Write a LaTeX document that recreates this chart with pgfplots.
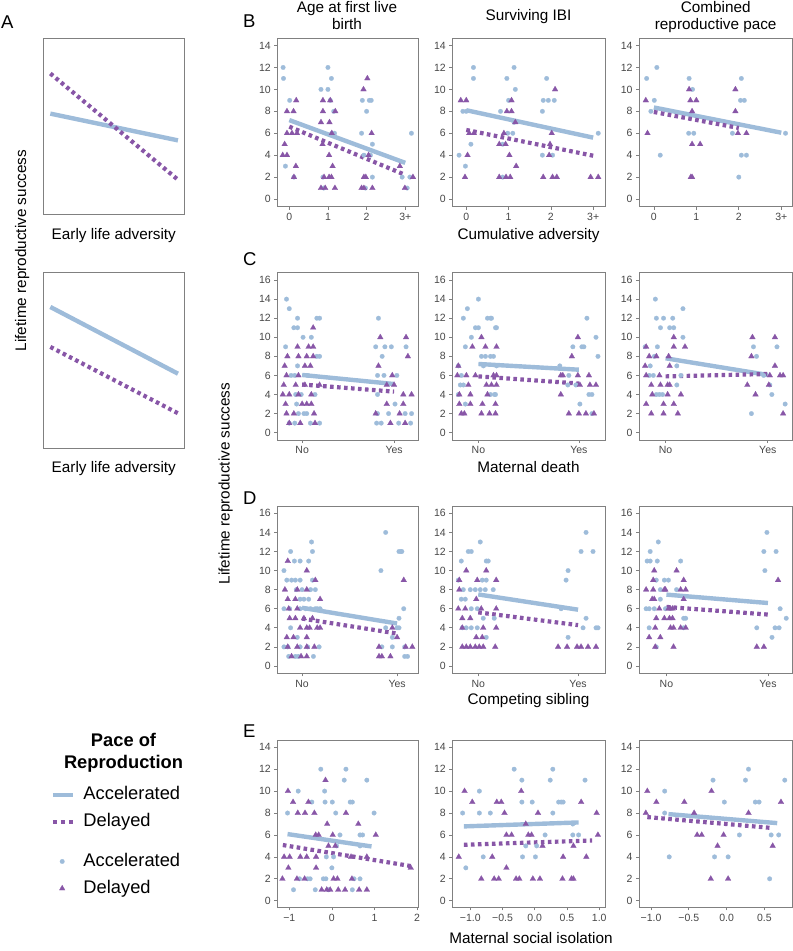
\documentclass[border=0pt]{standalone}
\usepackage{pgfplots}
\pgfplotsset{compat=1.18}
\usepackage{fontspec}
\setmainfont{Liberation Sans}
\definecolor{cblue}{HTML}{9EBCDA}
\definecolor{cpurple}{HTML}{8856A7}
\newcommand\tickfont{\fontsize{10.5bp}{12bp}\selectfont}
\newcommand\labfont{\fontsize{15.3bp}{17.5bp}\selectfont}
\newcommand\letfont{\fontsize{18.5bp}{21bp}\selectfont}
\newcommand\legfont{\fontsize{18.3bp}{21bp}\selectfont}
\pgfplotsset{
  panel/.style={
    scale only axis, anchor=north west,
    axis line style={draw=black!50, line width=0.7bp},
    tick style={draw=black!50, line width=0.7bp},
    tick align=outside, major tick length=3bp,
    xtick pos=bottom, ytick pos=left,
    tick label style={font=\tickfont, text=black!72},
    /pgf/number format/assume math mode=true,
  },
  c1/.style={width=140.7bp},
  c2/.style={width=152.7bp},
  c3/.style={width=153.3bp},
  rowB/.style={height=168.4bp, ymin=-0.7, ymax=14.66, ytick={0,2,...,14}},
  rowC/.style={height=167.3bp, ymin=-0.77, ymax=16.77, ytick={0,2,...,16}},
  rowE/.style={height=167.3bp, ymin=-0.6, ymax=14.66, ytick={0,2,...,14}},
  adv/.style={xtick={0,1,2,3}, xticklabels={0,1,2,3+}},
  yn/.style={xtick={0,1}, xticklabels={No,Yes}},
  bpt/.style={only marks, mark=*, color=cblue, mark size=2.3bp, mark options={fill=cblue, draw=cblue, line width=0.2bp}},
  ppt/.style={only marks, mark=triangle*, color=cpurple, mark size=3.3bp, mark options={fill=cpurple, draw=cpurple, line width=0.2bp}},
  bln/.style={no marks, color=cblue, line width=4.4bp},
  pln/.style={no marks, color=cpurple, line width=4.2bp, dash pattern=on 3.6bp off 3.4bp},
  panelA/.style={scale only axis, anchor=north west, width=141bp, height=176bp, xmin=0, xmax=1, ymin=0, ymax=1, xtick=\empty, ytick=\empty, axis line style={draw=black!50, line width=0.7bp}},
}
\begin{document}
\begin{tikzpicture}
\path[use as bounding box] (0bp,0bp) rectangle (793bp,-951bp);

% ---------------- Panel A ----------------
\begin{axis}[panelA, at={(43.3bp,-38.3bp)}]
\addplot[bln] coordinates {(0.05,0.572) (0.955,0.42)};
\addplot[pln] coordinates {(0.05,0.80) (0.96,0.193)};
\end{axis}
\begin{axis}[panelA, at={(43.3bp,-272.3bp)}]
\addplot[bln] coordinates {(0.05,0.803) (0.955,0.424)};
\addplot[pln] coordinates {(0.05,0.576) (0.96,0.197)};
\end{axis}
\node[font=\letfont, anchor=base west, inner sep=0pt] at (1bp,-28.3bp) {A};
\node[font=\labfont, anchor=base] at (113.8bp,-239bp) {Early life adversity};
\node[font=\labfont, anchor=base] at (113.8bp,-472.3bp) {Early life adversity};
\node[font=\labfont, anchor=base, rotate=90] at (26bp,-250.5bp) {Lifetime reproductive success};

% ---------------- Row B ----------------
\begin{axis}[panel, c1, rowB, adv, at={(277.3bp,-38.3bp)}, xmin=-0.31, xmax=3.33]
\addplot[bpt] coordinates {(-0.16,12) (-0.15,11) (0.01,9) (-0.1,3) (0.12,2) (1.0,12) (1.09,11) (0.82,10) (1.0,10) (1.06,9) (1.15,8) (1.1,6) (1.17,6) (0.87,2) (0.89,1) (1.89,9) (2.07,9) (2.12,9) (2.0,8) (1.87,6) (2.15,5) (1.93,4) (2.1,4) (2.15,2) (1.97,1) (3.16,6) (2.92,2) (3.12,2) (3.05,1)};
\addplot[ppt] coordinates {(0.18,9) (-0.06,8) (0.11,8) (-0.06,6) (0.07,6) (0.2,6) (-0.12,5) (-0.17,4) (-0.06,4) (0.17,3) (0.12,2) (0.87,9) (1.06,9) (0.87,8) (1.19,8) (0.82,7) (1.04,7) (1.1,6) (0.86,5) (1.03,4) (1.12,3) (0.9,2) (1.03,2) (1.09,2) (0.82,1) (0.93,1) (1.18,1) (2.02,11) (1.92,10) (2.13,6) (2.05,4) (1.93,2) (1.98,2) (1.87,1) (1.93,1) (2.15,1) (2.86,3) (3.2,2) (2.99,1)};
\addplot[bln] coordinates {(0,7.2) (3,3.3)};
\addplot[pln] coordinates {(0,6.6) (3,2.2)};
\end{axis}
\begin{axis}[panel, c2, rowB, adv, at={(452.3bp,-38.3bp)}, xmin=-0.33, xmax=3.28]
\addplot[bpt] coordinates {(-0.17,4) (-0.08,8) (0,8) (-0.02,3) (0.11,5) (0.17,12) (0.17,11) (0.96,11) (1.13,12) (1.16,10) (1.0,9) (0.81,8) (1.13,7) (0.98,6) (1.1,6) (0.86,5) (0.86,2) (1.9,11) (1.82,9) (1.94,9) (2.08,9) (1.8,8) (1.8,4) (2.04,4) (3.12,6)};
\addplot[ppt] coordinates {(-0.13,9) (0,9) (0.03,4) (-0.03,2) (0.07,6) (0.18,6) (1.07,9) (0.96,8) (1.07,8) (1.16,7) (0.89,6) (0.78,5) (0.93,5) (1.02,4) (1.18,3) (0.78,2) (0.94,2) (1.04,2) (2.1,10) (2.02,6) (1.98,5) (1.96,4) (1.82,2) (2.04,2) (2.14,2) (2.94,2) (3.12,2)};
\addplot[bln] coordinates {(0,8.1) (3,5.6)};
\addplot[pln] coordinates {(0,6.3) (3,3.95)};
\end{axis}
\begin{axis}[panel, c3, rowB, adv, at={(639bp,-38.3bp)}, xmin=-0.35, xmax=3.26]
\addplot[bpt] coordinates {(-0.17,11) (0.07,12) (0.01,9) (-0.07,8) (0.15,4) (0.83,11) (0.91,10) (0.82,6) (0.94,6) (2.06,11) (2.04,9) (2.13,9) (1.85,6) (2.06,4) (2.18,4) (2.0,2) (3.1,6)};
\addplot[ppt] coordinates {(-0.19,9) (-0.15,6) (0.83,10) (0.86,9) (1.0,9) (0.9,8) (0.9,5) (1.09,5) (0.87,2) (0.9,2) (1.92,10) (1.92,8) (1.98,6) (2.18,6)};
\addplot[bln] coordinates {(0,8.35) (3,6.05)};
\addplot[pln] coordinates {(0,7.94) (2,6.48)};
\end{axis}
\node[font=\letfont, anchor=base west, inner sep=0pt] at (243bp,-27.3bp) {B};
\node[font=\labfont, anchor=base] at (347bp,-12.3bp) {Age at first live};
\node[font=\labfont, anchor=base] at (347bp,-29.8bp) {birth};
\node[font=\labfont, anchor=base] at (528.5bp,-20.7bp) {Surviving IBI};
\node[font=\labfont, anchor=base] at (715.7bp,-12.3bp) {Combined};
\node[font=\labfont, anchor=base] at (715.7bp,-29.8bp) {reproductive pace};
\node[font=\labfont, anchor=base] at (528.5bp,-239bp) {Cumulative adversity};

% ---------------- Row C ----------------
\begin{axis}[panel, c1, rowC, yn, at={(277.3bp,-272.7bp)}, xmin=-0.27, xmax=1.26]
\addplot[bpt] coordinates {(-0.17,14) (-0.14,13) (-0.05,12) (-0.09,11) (-0.05,11) (0.01,10) (0.1,10) (0.16,12) (0.19,12) (-0.18,9) (0.16,8) (0.19,8) (-0.05,7) (-0.12,6) (-0.08,6) (0.06,6) (-0.07,4) (-0.01,4) (0.14,4) (-0.06,3) (-0.04,2) (0.02,2) (0.05,2) (-0.14,1) (-0.08,1) (0.09,1) (0.19,1) (0.83,12) (0.8,9) (0.9,9) (0.97,9) (0.87,8) (0.82,6) (0.89,6) (1.03,6) (0.82,4) (0.82,2) (0.94,2) (0.81,1) (0.86,1) (1.01,3) (1.05,1) (1.13,9) (1.12,2) (1.19,2) (1.18,1)};
\addplot[ppt] coordinates {(0.12,11) (-0.05,9) (0.07,9) (0.12,9) (-0.16,8) (-0.04,8) (0.05,8) (0.12,8) (-0.19,7) (0.03,7) (0.09,7) (-0.17,6) (-0.04,6) (-0.2,5) (-0.07,5) (0.03,5) (0.19,5) (-0.21,4) (-0.14,4) (-0.04,4) (0.1,4) (-0.18,3) (0,3) (0.05,3) (0.1,3) (-0.17,2) (-0.09,2) (0.13,2) (-0.14,1) (-0.02,1) (0.14,1) (0.85,10) (1.13,10) (0.83,7) (0.98,6) (0.92,5) (1.0,5) (1.15,8) (1.1,4) (1.19,4) (0.92,3) (1.1,3) (0.8,2) (1.06,2) (0.96,1) (1.12,1)};
\addplot[bln] coordinates {(0,6.05) (1,5.1)};
\addplot[pln] coordinates {(0,5.05) (1,4.3)};
\end{axis}
\begin{axis}[panel, c2, rowC, yn, at={(452.3bp,-272.7bp)}, xmin=-0.26, xmax=1.26]
\addplot[bpt] coordinates {(-0.15,12) (-0.11,13) (0,14) (-0.07,10) (-0.03,11) (0,11) (0.09,12) (0.12,12) (0.17,11) (-0.13,9) (0.03,8) (0.07,8) (0.12,8) (-0.2,7) (-0.17,6) (-0.18,5) (-0.15,5) (-0.2,4) (-0.13,3) (0.12,4) (0.16,4) (0.05,7) (0.13,12) (0.18,11) (0.15,8) (0.18,7) (0.17,4) (0.81,7) (0.9,6) (0.94,9) (1.03,9) (1.05,9) (1.08,12) (1.17,10) (1.19,8) (0.89,5) (0.97,5) (1.01,3) (1.1,4) (1.13,4) (1.13,2)};
\addplot[ppt] coordinates {(0.03,10) (-0.2,7) (-0.06,9) (0.07,9) (0.18,9) (-0.21,6) (-0.12,6) (-0.03,6) (-0.1,5) (0.08,5) (-0.19,4) (-0.08,4) (0.09,4) (-0.19,3) (-0.08,3) (0.04,3) (0.17,3) (-0.17,2) (-0.14,2) (0.03,2) (0.11,2) (0.17,2) (0.15,6) (0.18,6) (0.13,5) (0.18,5) (0.99,10) (0.93,8) (0.82,6) (0.84,6) (0.99,6) (1.1,6) (0.82,4) (1.01,5) (1.11,5) (1.17,5) (0.9,2) (1.0,2) (1.07,2) (1.15,2)};
\addplot[bln] coordinates {(0,7.2) (1,6.6)};
\addplot[pln] coordinates {(0,5.9) (1,5.15)};
\end{axis}
\begin{axis}[panel, c3, rowC, yn, at={(639bp,-272.7bp)}, xmin=-0.26, xmax=1.24]
\addplot[bpt] coordinates {(-0.2,9) (-0.1,14) (-0.09,12) (-0.02,12) (0.07,12) (-0.05,11) (0.04,11) (0.08,11) (0.17,13) (0.17,10) (0.11,7) (-0.15,7) (-0.16,6) (-0.12,6) (-0.09,4) (-0.06,4) (-0.03,4) (0.11,5) (0.15,6) (-0.11,8) (-0.08,9) (0.86,9) (0.89,8) (0.84,2) (1.02,5) (1.04,4) (1.09,9) (1.17,3) (0.96,6)};
\addplot[ppt] coordinates {(-0.19,9) (-0.2,7) (-0.16,8) (-0.09,8) (-0.19,6) (-0.14,5) (-0.13,4) (-0.19,3) (-0.14,2) (-0.06,6) (-0.05,5) (0.02,5) (0.04,5) (-0.02,3) (0.08,3) (-0.02,2) (0.02,4) (0.04,7) (0.03,8) (0.08,9) (0.08,10) (0.19,9) (0.15,4) (0.12,2) (0.85,10) (0.84,8) (0.8,5) (0.88,4) (1.07,10) (1.07,7) (1.02,6) (1.12,6) (1.15,6) (1.15,2) (1.01,5)};
\addplot[bln] coordinates {(0,7.8) (1,6.05)};
\addplot[pln] coordinates {(0,5.9) (1,6.15)};
\end{axis}
\node[font=\letfont, anchor=base west, inner sep=0pt] at (243bp,-265bp) {C};
\node[font=\labfont, anchor=base] at (528.5bp,-472.3bp) {Maternal death};

% ---------------- Row D ----------------
\begin{axis}[panel, c1, rowC, yn, at={(277.3bp,-506bp)}, xmin=-0.26, xmax=1.22]
\addplot[bpt] coordinates {(0.1,13) (-0.12,12) (0.11,12) (-0.08,11) (-0.02,11) (0.07,11) (-0.19,10) (-0.16,9) (-0.11,9) (-0.07,9) (-0.02,9) (0.11,9) (-0.06,8) (0,8) (0.09,8) (0.14,8) (-0.02,7) (0.02,7) (0.07,7) (-0.19,6) (-0.13,6) (-0.02,6) (0.04,6) (0.09,6) (0.14,6) (0.16,6) (0.19,6) (-0.12,4) (-0.05,3) (-0.19,2) (-0.15,2) (-0.02,2) (0.06,2) (0.18,2) (-0.14,1) (-0.07,1) (-0.04,1) (0.12,1) (0.88,14) (0.83,10) (1.02,12) (1.04,12) (1.05,12) (1.07,6) (1.02,5) (0.88,4) (1.0,4) (1.02,4) (0.95,3) (0.84,2) (0.95,2) (1.08,2) (1.08,1) (1.11,1)};
\addplot[ppt] coordinates {(-0.15,11) (0.05,10) (0.14,9) (-0.18,8) (-0.05,8) (0.05,8) (-0.15,7) (-0.07,7) (0.19,7) (-0.14,6) (-0.05,6) (-0.13,5) (-0.07,5) (0.02,5) (0.11,5) (-0.02,4) (0.05,4) (0.08,4) (0.16,4) (0.19,4) (-0.16,3) (-0.09,3) (0.05,3) (-0.15,2) (-0.05,2) (0.05,2) (0.13,2) (-0.11,1) (-0.01,1) (0.05,1) (1.07,9) (0.95,4) (1.0,3) (0.81,2) (1.09,2) (1.16,2) (0.81,1) (0.84,1) (0.93,1)};
\addplot[bln] coordinates {(0,6.1) (1,4.45)};
\addplot[pln] coordinates {(0,4.97) (1,3.4)};
\end{axis}
\begin{axis}[panel, c2, rowC, yn, at={(452.3bp,-506bp)}, xmin=-0.26, xmax=1.27]
\addplot[bpt] coordinates {(-0.17,11) (-0.1,12) (-0.07,12) (0.02,13) (0.08,11) (0.1,11) (-0.2,9) (0.04,9) (0.08,9) (-0.15,8) (-0.08,8) (-0.03,8) (0.02,8) (0.07,8) (-0.17,7) (-0.13,7) (-0.07,6) (-0.01,6) (0.05,5) (-0.16,4) (-0.12,4) (-0.07,4) (-0.01,4) (0.08,3) (0.15,8) (0.16,5) (0.88,9) (0.9,10) (0.83,6) (1.03,12) (1.08,14) (1.15,12) (0.9,3) (1.05,4) (1.08,5) (1.18,4) (1.2,4)};
\addplot[ppt] coordinates {(-0.12,10) (0.08,10) (-0.19,9) (-0.01,9) (-0.19,8) (-0.02,7) (-0.2,6) (-0.13,6) (0.03,6) (-0.16,5) (-0.08,5) (-0.16,4) (0.05,4) (-0.02,3) (0.04,3) (-0.16,2) (-0.12,2) (-0.08,2) (-0.03,2) (0.01,2) (0.05,2) (0.17,2) (0.18,9) (0.18,6) (0.18,4) (0.8,2) (0.89,2) (0.99,2) (1.03,2) (1.1,2) (1.18,2)};
\addplot[bln] coordinates {(0,7.5) (1,5.9)};
\addplot[pln] coordinates {(0,5.62) (1,4.28)};
\end{axis}
\begin{axis}[panel, c3, rowC, yn, at={(639bp,-506bp)}, xmin=-0.27, xmax=1.24]
\addplot[bpt] coordinates {(-0.19,11) (-0.16,11) (-0.16,12) (-0.08,13) (-0.09,11) (-0.2,6) (-0.17,6) (-0.17,4) (-0.1,9) (-0.06,7) (-0.02,9) (0.02,9) (-0.06,8) (-0.1,2) (0.1,8) (0.14,11) (0.17,5) (0.19,5) (0.17,4) (-0.01,6) (-0.12,6) (0.89,4) (0.97,10) (0.96,12) (0.99,14) (1.08,12) (1.04,3) (1.07,4) (1.11,4) (1.12,6) (1.18,5)};
\addplot[ppt] coordinates {(-0.2,8) (-0.13,8) (-0.12,10) (-0.13,9) (-0.14,7) (-0.12,7) (-0.17,3) (-0.1,5) (-0.11,4) (-0.11,2) (-0.06,3) (-0.02,8) (-0.01,8) (-0.07,6) (0.02,6) (0.04,6) (0.06,6) (-0.02,5) (0.03,5) (0.06,5) (0.04,4) (0.07,4) (0.1,10) (0.17,9) (0.14,8) (0.19,8) (0.17,7) (0.14,4) (0.19,4) (0.07,2) (0.89,2) (0.96,2) (1.1,9)};
\addplot[bln] coordinates {(0,7.48) (1,6.6)};
\addplot[pln] coordinates {(0,6.19) (1,5.39)};
\end{axis}
\node[font=\letfont, anchor=base west, inner sep=0pt] at (243bp,-504.3bp) {D};
\node[font=\labfont, anchor=base] at (528.5bp,-704.3bp) {Competing sibling};
\node[font=\labfont, anchor=base, rotate=90] at (229.5bp,-483.5bp) {Lifetime reproductive success};

% ---------------- Row E ----------------
\begin{axis}[panel, c1, rowE, at={(277.3bp,-740bp)}, xmin=-1.28, xmax=2.02, xtick={-1,0,1,2}, xticklabels={−1,0,1,2}]
\addplot[bpt] coordinates {(-0.26,12) (0.33,12) (0.29,11) (0.82,11) (-0.79,10) (-0.17,10) (-0.47,9) (-0.16,9) (0.01,9) (0.43,9) (0.48,9) (-1.04,8) (0.09,8) (0.99,8) (0.19,6) (0.66,6) (0.72,6) (0.11,5) (0.66,5) (-0.13,4) (0.04,4) (0,3) (-0.76,2) (-0.57,2) (-0.51,2) (-0.2,2) (-0.14,2) (0.52,2) (0.66,2) (-0.9,1) (-0.39,1) (-0.08,1) (0.48,1)};
\addplot[ppt] coordinates {(-0.15,11) (-1.03,10) (-0.91,9) (-0.55,9) (-0.8,8) (-0.63,8) (-0.41,8) (0.33,8) (-0.11,7) (0.62,7) (-0.38,6) (-0.31,6) (0.02,6) (1.03,6) (-0.08,5) (0.08,5) (-1.12,4) (-0.99,4) (-0.74,4) (-0.59,4) (-0.37,4) (0.45,4) (0.82,4) (-1.02,3) (-0.37,3) (1.85,3) (-1.16,2) (-0.82,2) (-0.64,2) (0.04,2) (0.13,2) (0.47,2) (-0.24,1) (-0.12,1) (-0.04,1) (0.15,1) (0.31,1) (0.64,1) (0.82,1)};
\addplot[bln] coordinates {(-1.04,6.08) (0.93,4.95)};
\addplot[pln] coordinates {(-1.15,5.08) (1.87,3.15)};
\end{axis}
\begin{axis}[panel, c2, rowE, at={(452.3bp,-740bp)}, xmin=-1.28, xmax=1.09, xtick={-1,-0.5,0,0.5,1}, xticklabels={−1.0,−0.5,0.0,0.5,1.0}]
\addplot[bpt] coordinates {(-1.12,8) (-1.07,3) (-0.86,10) (-0.86,8) (-0.69,8) (-0.8,4) (-0.32,12) (0.28,12) (-0.2,11) (0.24,11) (0.78,11) (-0.2,9) (-0.04,9) (0.37,9) (0.41,9) (0.44,9) (0.28,8) (-0.14,5) (0.16,6) (0.59,6) (0.68,6) (0.03,5) (-0.19,4) (0.01,4) (0.59,7)};
\addplot[ppt] coordinates {(-1.18,4) (-1.09,10) (-0.97,9) (-0.83,2) (-0.66,4) (-0.63,2) (-0.56,2) (-0.59,9) (-0.52,9) (-0.21,10) (-0.47,8) (0.05,8) (0.72,9) (0.96,8) (-0.44,6) (-0.36,6) (-0.1,6) (-0.05,6) (0.98,6) (0.12,5) (0.6,5) (0.44,4) (0.8,4) (-0.44,3) (-0.29,2) (-0.24,2) (-0.03,2) (0.08,2) (0.43,2) (0.57,2) (0.6,2) (-0.14,7)};
\addplot[bln] coordinates {(-1.1,6.78) (0.68,7.14)};
\addplot[pln] coordinates {(-1.1,5.1) (0.89,5.5)};
\end{axis}
\begin{axis}[panel, c3, rowE, at={(639bp,-740bp)}, xmin=-1.16, xmax=0.87, xtick={-1,-0.5,0,0.5}, xticklabels={−1.0,−0.5,0.0,0.5}]
\addplot[bpt] coordinates {(-0.82,10) (-0.82,8) (-0.76,4) (-0.18,11) (-0.16,4) (-0.03,9) (0.02,4) (0.17,6) (0.25,11) (0.29,12) (0.38,9) (0.43,9) (0.57,2) (0.59,6) (0.69,6) (0.77,11)};
\addplot[ppt] coordinates {(-1.05,10) (-1.07,8) (-0.93,9) (-0.56,9) (-0.43,8) (-0.39,6) (-0.33,6) (-0.2,10) (-0.21,2) (-0.12,5) (-0.04,6) (0.02,2) (0.29,8) (0.61,5) (0.72,9)};
\addplot[bln] coordinates {(-0.77,7.9) (0.67,7.08)};
\addplot[pln] coordinates {(-1.05,7.63) (0.61,6.63)};
\end{axis}
\node[font=\letfont, anchor=base west, inner sep=0pt] at (243bp,-737.3bp) {E};
\node[font=\labfont, anchor=base] at (531bp,-943.3bp) {Maternal social isolation};

% ---------------- Legend ----------------
\node[font=\legfont\bfseries, anchor=base] at (123.5bp,-746.7bp) {Pace of};
\node[font=\legfont\bfseries, anchor=base] at (123.5bp,-768.3bp) {Reproduction};
\begin{axis}[hide axis, scale only axis, width=10bp, height=10bp, at={(50.5bp,-786.2bp)}, anchor=north west, xmin=0, xmax=1, ymin=0, ymax=1,
  legend cell align=left,
  legend style={at={(0,1)}, anchor=north west, draw=none, fill=none, inner sep=0pt, row sep=9.5bp, font=\legfont, nodes={inner sep=0pt, text height=13.5bp, text depth=4bp}},
  legend image code/.code={\draw[#1] (0bp,0bp) -- (20bp,0bp);}]
\addlegendimage{cblue, line width=4.4bp}
\addlegendentry{\hspace*{8.4bp}Accelerated}
\addlegendimage{cpurple, line width=4.2bp, dash pattern=on 4bp off 4bp}
\addlegendentry{\hspace*{8.4bp}Delayed}
\end{axis}
\begin{axis}[hide axis, scale only axis, width=10bp, height=10bp, at={(52.7bp,-852.5bp)}, anchor=north west, xmin=0, xmax=1, ymin=0, ymax=1,
  legend cell align=left,
  legend style={at={(0,1)}, anchor=north west, draw=none, fill=none, inner sep=0pt, row sep=9.5bp, font=\legfont, nodes={inner sep=0pt, text height=13.5bp, text depth=4bp}},
  legend image code/.code={\path[draw=none, fill=none] (0bp,0bp) (20bp,0bp); \draw[#1] plot coordinates {(9.3bp,0bp)};}]
\addlegendimage{bpt}
\addlegendentry{\hspace*{10.6bp}Accelerated}
\addlegendimage{ppt}
\addlegendentry{\hspace*{10.6bp}Delayed}
\end{axis}
\end{tikzpicture}
\end{document}
